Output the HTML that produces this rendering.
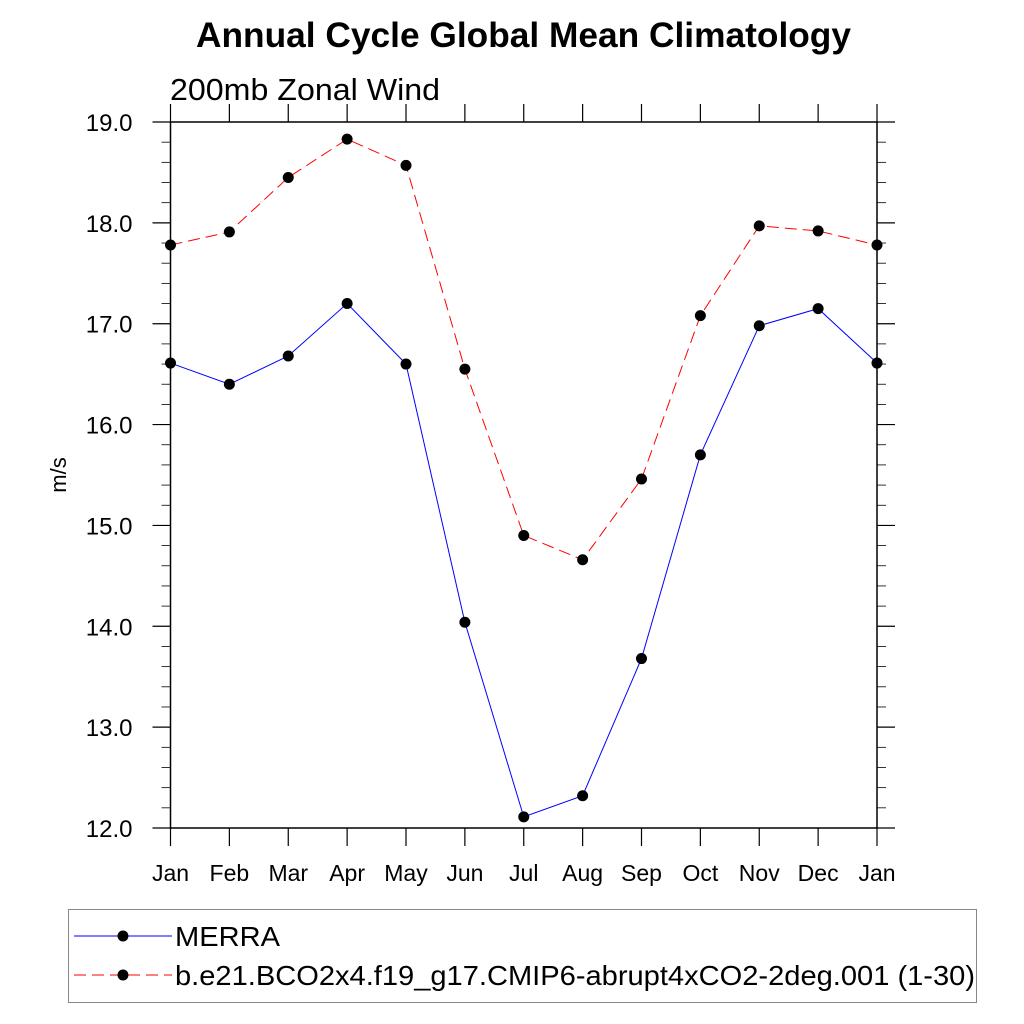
<!DOCTYPE html>
<html><head><meta charset="utf-8"><style>
body{margin:0;background:#fff;}
svg{display:block;font-family:"Liberation Sans",sans-serif;}
</style></head><body>
<svg id="chart" width="1024" height="1024" viewBox="0 0 1024 1024">
<text x="196" y="47" font-size="35" font-weight="bold" textLength="655" lengthAdjust="spacingAndGlyphs">Annual Cycle Global Mean Climatology</text>
<text x="170" y="100" font-size="31" textLength="270" lengthAdjust="spacingAndGlyphs">200mb Zonal Wind</text>
<text transform="translate(66,475) rotate(-90)" text-anchor="middle" font-size="22">m/s</text>
<g id="axes"></g>
<g id="series"></g>
<rect x="68.5" y="909.5" width="908" height="93" fill="none" stroke="#888" stroke-width="1"/>
<g>
<line x1="74" y1="936" x2="172" y2="936" stroke="#00f" stroke-width="1"/>
<circle cx="123" cy="936" r="5.5" fill="#000"/>
<text x="175" y="946" font-size="28" textLength="105" lengthAdjust="spacingAndGlyphs">MERRA</text>
</g>
<g>
<line x1="74" y1="975" x2="172" y2="975" stroke="#f00" stroke-width="1" stroke-dasharray="12,6"/>
<circle cx="123" cy="975" r="5.5" fill="#000"/>
<text x="175" y="985" font-size="28" textLength="800" lengthAdjust="spacingAndGlyphs">b.e21.BCO2x4.f19_g17.CMIP6-abrupt4xCO2-2deg.001 (1-30)</text>
</g>
</svg>
<script>
const months=["Jan","Feb","Mar","Apr","May","Jun","Jul","Aug","Sep","Oct","Nov","Dec","Jan"];
const merra=[16.61,16.40,16.68,17.20,16.60,14.04,12.11,12.32,13.68,15.70,16.98,17.15,16.61];
const model=[17.78,17.91,18.45,18.83,18.57,16.55,14.90,14.66,15.46,17.08,17.97,17.92,17.78];
const yTicks=["12.0","13.0","14.0","15.0","16.0","17.0","18.0","19.0"];
const X0=170.5,X1=877,Y0=828,Y1=122,YMIN=12,YMAX=19;
const xs=i=>X0+(X1-X0)*i/12;
const ys=v=>Y0-(v-YMIN)/(YMAX-YMIN)*(Y0-Y1);
const NS="http://www.w3.org/2000/svg";
function mk(t,a,p){const e=document.createElementNS(NS,t);for(const k in a)e.setAttribute(k,a[k]);p.appendChild(e);return e;}
const ax=document.getElementById('axes');
const box=mk('rect',{x:X0,y:Y1,width:X1-X0,height:Y0-Y1,fill:'none',stroke:'#000','stroke-width':1.5},ax);


months.forEach((m,i)=>{const x=xs(i);
mk('line',{x1:x,y1:Y0,x2:x,y2:Y0+18,stroke:'#000','stroke-width':1.2},ax);
mk('line',{x1:x,y1:Y1,x2:x,y2:Y1-18,stroke:'#000','stroke-width':1.2},ax);
const t=mk('text',{x:x,y:Y0+53,'text-anchor':'middle','font-size':23},ax);t.textContent=m;

});
for(let v=YMIN;v<=YMAX+1e-6;v+=0.2){const y=ys(v);const major=Math.abs(v-Math.round(v))<1e-6;const L=major?18:9;
mk('line',{x1:X0-L,y1:y,x2:X0,y2:y,stroke:'#000','stroke-width':major?1.2:0.8},ax);
mk('line',{x1:X1,y1:y,x2:X1+L,y2:y,stroke:'#000','stroke-width':major?1.2:0.8},ax);}
yTicks.forEach(s=>{const t=mk('text',{x:X0-38,y:ys(parseFloat(s))+9,'text-anchor':'end','font-size':24},ax);t.textContent=s;

});
const sg=document.getElementById('series');
function draw(vals,color,dash,name){
const g=mk('g',{},sg);


mk('polyline',{points:vals.map((v,i)=>xs(i)+','+ys(v)).join(' '),fill:'none',stroke:color,'stroke-width':1,'stroke-dasharray':dash},g);
vals.forEach((v,i)=>{const c=mk('circle',{cx:xs(i),cy:ys(v),r:5.5,fill:'#000'},g);

});}
draw(model,'#f00','12,6','series-model');
draw(merra,'#00f','none','series-merra');
</script>
</body></html>
